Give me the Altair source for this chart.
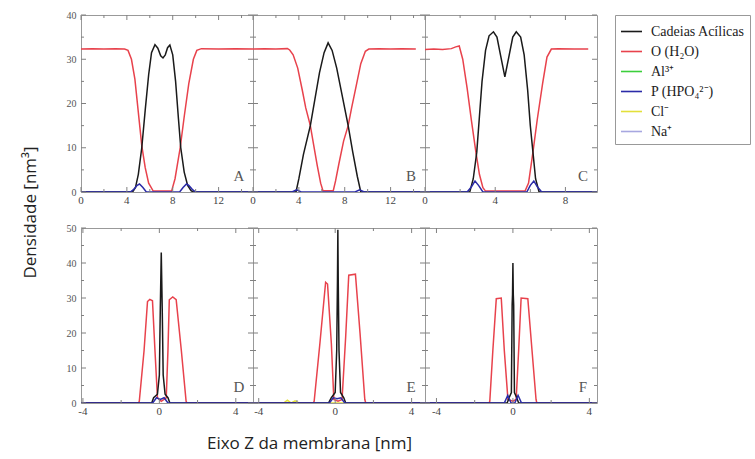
import altair as alt
import pandas as pd

SPECIES = ["Cadeias Acílicas", "O (H₂O)", "Al³⁺", "P (HPO₄²⁻)", "Cl⁻", "Na⁺"]
COLORS = ["#1a1a1a", "#e8424c", "#3ccf3c", "#2b2ba8", "#e3e03a", "#a7a7e0"]

# ---------------- Panel A ----------------
A_Z_O = [0, 1, 2, 3, 3.8, 4.1, 4.4, 4.7, 5.0, 5.3, 5.6, 5.9, 6.3, 7.9, 8.2, 8.65, 9.0, 9.4, 9.8, 10.1, 10.5, 12, 13.5, 15]
A_O = [32.3, 32.4, 32.3, 32.4, 32.3, 32.0, 30.0, 25.5, 18.0, 10.5, 5.5, 2.0, 0.2, 0.2, 3.0, 10.0, 17.0, 24.5, 30.0, 32.0, 32.4, 32.3, 32.4, 32.3]
A_Z_CH = [0, 4.5, 4.75, 5.0, 5.3, 5.6, 5.9, 6.15, 6.45, 6.7, 6.95, 7.15, 7.35, 7.55, 7.75, 8.0, 8.25, 8.5, 8.7, 9.0, 9.3, 9.6, 9.8, 15]
A_CH = [0, 0, 1.0, 4.0, 10.0, 18.5, 26.5, 31.5, 33.3, 32.5, 30.8, 30.3, 31.0, 32.6, 33.2, 31.0, 25.0, 16.5, 10.0, 4.5, 1.5, 0.3, 0, 0]
A_Z_P = [0, 4.3, 4.6, 4.9, 5.1, 5.4, 5.7, 8.6, 8.9, 9.2, 9.4, 9.7, 10.0, 15]
A_P = [0, 0, 0.6, 1.5, 1.8, 1.0, 0, 0, 1.0, 1.8, 1.5, 0.6, 0, 0]

# ---------------- Panel B ----------------
B_Z_O = [0, 1, 2, 3.0, 3.2, 3.5, 3.9, 4.3, 4.6, 5.0, 5.3, 5.6, 5.9, 6.1, 7.0, 7.2, 7.5, 7.9, 8.3, 8.6, 9.0, 9.4, 9.8, 10.1, 11, 12, 13, 14.2]
B_O = [32.3, 32.4, 32.3, 32.4, 32.1, 31.0, 28.0, 23.0, 19.0, 15.0, 10.5, 6.0, 2.0, 0.3, 0.3, 2.5, 6.5, 11.5, 15.0, 19.0, 24.0, 29.0, 31.8, 32.3, 32.4, 32.3, 32.4, 32.3]
B_Z_CH = [0, 3.75, 4.0, 4.4, 5.0, 5.4, 5.8, 6.2, 6.55, 6.9, 7.3, 7.8, 8.3, 8.7, 9.1, 9.4, 15]
B_CH = [0, 0, 3.0, 8.5, 15.0, 21.0, 27.0, 31.5, 33.7, 32.0, 28.0, 21.5, 15.0, 9.0, 3.5, 0, 0]
B_Z_P = [0, 3.4, 3.8, 4.2, 8.9, 9.3, 9.7, 15]
B_P = [0, 0, 0.5, 0, 0, 0.5, 0, 0]

# ---------------- Panel C ----------------
C_Z_O = [0, 0.5, 1.0, 1.5, 1.75, 1.95, 2.15, 2.4, 2.65, 2.9, 3.1, 3.3, 3.45, 5.7, 5.9, 6.15, 6.4, 6.7, 6.95, 7.2, 7.6, 8.5, 9.3]
C_O = [32.2, 32.3, 32.2, 32.4, 32.8, 33.0, 30.0, 23.5, 16.0, 9.0, 4.0, 1.0, 0.2, 0.2, 2.0, 9.0, 16.5, 24.5, 30.5, 32.3, 32.4, 32.3, 32.3]
C_Z_CH = [0, 2.55, 2.75, 2.95, 3.1, 3.25, 3.45, 3.65, 3.9, 4.1, 4.3, 4.55, 4.8, 5.0, 5.2, 5.45, 5.65, 5.85, 6.0, 6.15, 6.3, 6.5, 9.8]
C_CH = [0, 0, 3.0, 9.0, 17.0, 25.0, 32.0, 35.3, 36.2, 35.0, 31.0, 26.0, 31.0, 35.0, 36.2, 35.0, 31.0, 23.0, 15.0, 9.0, 3.0, 0, 0]
C_Z_P = [0, 2.4, 2.65, 2.85, 3.05, 3.3, 5.8, 6.0, 6.2, 6.4, 6.65, 9.8]
C_P = [0, 0, 1.2, 2.5, 1.5, 0, 0, 1.5, 2.5, 1.2, 0, 0]

# ---------------- Panel D ----------------
D_Z_O = [-4.1, -1.1, -1.05, -0.8, -0.62, -0.5, -0.36, -0.23, -0.1, 0.1, 0.36, 0.45, 0.52, 0.7, 0.88, 1.15, 1.4, 1.45, 4.9]
D_O = [0, 0, 0.5, 15, 29, 29.6, 29.2, 15, 1.5, 0.5, 1.5, 15, 29.5, 30.3, 29.5, 15, 0.5, 0, 0]
D_Z_CH = [-4.1, -0.4, -0.3, -0.1, 0.0, 0.05, 0.1, 0.15, 0.2, 0.3, 0.45, 0.55, 4.9]
D_CH = [0, 0, 1.5, 2.5, 8, 27, 43, 27, 8, 2.5, 1.5, 0, 0]
D_Z_P = [-4.1, -0.35, -0.15, 0.05, 0.25, 0.45, 4.9]
D_P = [0, 0, 1.5, 1.0, 1.5, 0, 0]

# ---------------- Panel E ----------------
E_Z_O = [-4.3, -1.15, -1.1, -0.8, -0.5, -0.4, -0.2, -0.07, 0.15, 0.36, 0.55, 0.71, 1.06, 1.3, 1.55, 1.6, 4.7]
E_O = [0, 0, 0.5, 17, 34.5, 34, 17, 1, 0.5, 1, 19, 36.5, 36.8, 20, 1, 0, 0]
E_Z_CH = [-4.3, -0.35, -0.2, 0.0, 0.08, 0.12, 0.14, 0.16, 0.2, 0.28, 0.45, 0.55, 4.7]
E_CH = [0, 0, 1.5, 3, 15, 35, 49.5, 35, 15, 3, 1.5, 0, 0]
E_Z_P = [-4.3, -0.3, -0.1, 0.1, 0.3, 0.5, 4.7]
E_P = [0, 0, 1.5, 1.2, 1.5, 0, 0]
E_Z_CL = [-4.3, -2.7, -2.5, -2.3, -2.1, -1.9, 4.7]
E_CL = [0, 0, 0.8, 0, 0.6, 0, 0]

# ---------------- Panel F ----------------
F_Z_O = [-4.6, -1.25, -1.21, -1.05, -0.87, -0.61, -0.45, -0.26, 0.0, 0.17, 0.3, 0.43, 0.78, 1.0, 1.21, 1.25, 4.4]
F_O = [0, 0, 0.5, 15, 29.8, 30, 15, 1, 0.5, 1, 15, 30, 29.8, 15, 1, 0, 0]
F_Z_CH = [-4.6, -0.3, -0.2, -0.08, -0.04, -0.02, 0.0, 0.02, 0.04, 0.08, 0.2, 0.3, 4.4]
F_CH = [0, 0, 1.5, 3, 28, 31, 40, 31, 28, 3, 1.5, 0, 0]
F_Z_P = [-4.6, -0.45, -0.27, -0.1, 0.1, 0.27, 0.45, 4.4]
F_P = [0, 0, 2.2, 0, 0, 2.2, 0, 0]

# tick values
TOP_XMAJ_AB = [0, 4, 8, 12]
TOP_XMIN_AB = [2, 6, 10, 14]
TOP_XMAJ_C = [0, 4, 8]
TOP_XMIN_C = [2, 6]
BOT_XMAJ = [-4, 0, 4]
BOT_XMIN = [-2, 2]
TOP_YMAJ = [0, 10, 20, 30, 40]
TOP_YMIN = [5, 15, 25, 35]
BOT_YMAJ = [0, 10, 20, 30, 40, 50]
BOT_YMIN = [5, 15, 25, 35, 45]

W = 172
H_TOP = 177
H_BOT = 175
TICK_COLOR = "#808080"
SERIF = "Liberation Serif"

LEGEND = alt.Legend(
    title=None, orient="none", legendX=534, legendY=0,
    symbolType="stroke", symbolSize=441, symbolStrokeWidth=1.6,
    labelFont=SERIF, labelFontSize=14, labelColor="#222", labelOffset=8,
    rowPadding=1, padding=5, strokeColor="#999", fillColor="white",
    labelLimit=200,
)


def make_df(parts):
    frames = []
    for name, z, d in parts:
        frames.append(pd.DataFrame({"z": z, "d": d, "s": name}))
    return pd.concat(frames, ignore_index=True)


def panel(parts, xdom, ydom, xmaj, xmin, ymaj, ymin, H, letter, show_y,
          ytitle=None, xtitle=None):
    xs = alt.Scale(domain=xdom, nice=False, zero=False)
    ys = alt.Scale(domain=ydom, nice=False, zero=False)
    if xtitle:
        xaxis = alt.Axis(labels=False, ticks=False, domain=False, grid=False,
                         title=xtitle, titleFont="Open Sans", titleFontSize=17,
                         titleFontWeight="normal", titleColor="#222",
                         titleX=56, titleY=40, titleAlign="center",
                         titleBaseline="middle")
    else:
        xaxis = None
    if show_y:
        yaxis_kw = dict(values=ymaj, ticks=False, domain=False, grid=False,
                        labelFont=SERIF, labelFontSize=10, labelColor="#555",
                        labelPadding=5, labelFlush=False, labelOverlap=False,
                        labelBound=False, title=None)
        if ytitle:
            yaxis_kw.update(title=ytitle, titleFont="Open Sans", titleFontSize=17,
                            titleFontWeight="normal", titleColor="#222",
                            titleX=-51, titleY=197, titleAngle=270,
                            titleAlign="center", titleBaseline="middle")
        yaxis = alt.Axis(**yaxis_kw)
    else:
        yaxis = None

    df = make_df(parts)
    lines = alt.Chart(df).mark_line(strokeWidth=1.5, clip=True).encode(
        x=alt.X("z:Q", scale=xs, axis=xaxis),
        y=alt.Y("d:Q", scale=ys, axis=yaxis),
        color=alt.Color("s:N", scale=alt.Scale(domain=SPECIES, range=COLORS),
                        legend=LEGEND),
    )

    layers = [lines]
    for vals, ln in ((xmaj, 5), (xmin, 3)):
        tdf = pd.DataFrame({"v": vals})
        base = alt.Chart(tdf).mark_rule(color=TICK_COLOR, strokeWidth=1)
        xv = alt.X("v:Q", scale=xs, axis=xaxis)
        layers.append(base.encode(x=xv, y=alt.value(H), y2=alt.value(H - ln)))
        layers.append(base.encode(x=xv, y=alt.value(0), y2=alt.value(ln)))
    for vals, ln in ((ymaj, 5), (ymin, 3)):
        tdf = pd.DataFrame({"v": vals})
        base = alt.Chart(tdf).mark_rule(color=TICK_COLOR, strokeWidth=1)
        yv = alt.Y("v:Q", scale=ys, axis=yaxis)
        layers.append(base.encode(y=yv, x=alt.value(0), x2=alt.value(ln)))
        layers.append(base.encode(y=yv, x=alt.value(W), x2=alt.value(W - ln)))

    # x tick labels (placed through the x scale)
    xl_df = pd.DataFrame({"pos": [float(v) for v in xmaj],
                          "lbl": [str(v) for v in xmaj]})
    xl = alt.Chart(xl_df).mark_text(
        font=SERIF, fontSize=11, color="#444", align="center", baseline="middle"
    ).encode(x=alt.X("pos:Q", scale=xs, axis=xaxis), y=alt.value(H + 9),
             text=alt.Text("lbl:N"))
    layers.append(xl)

    lab = alt.Chart(pd.DataFrame({"t": [letter]})).mark_text(
        font=SERIF, fontSize=15, color="#555", align="center", baseline="middle"
    ).encode(text="t:N", x=alt.value(W - 14), y=alt.value(H - 16))
    layers.append(lab)

    return alt.layer(*layers).properties(width=W, height=H)


pA = panel([("O (H₂O)", A_Z_O, A_O), ("Cadeias Acílicas", A_Z_CH, A_CH),
            ("P (HPO₄²⁻)", A_Z_P, A_P)],
           [0, 15], [0, 40], TOP_XMAJ_AB, TOP_XMIN_AB, TOP_YMAJ, TOP_YMIN,
           H_TOP, "A", True, ytitle="Densidade [nm³]")
pB = panel([("O (H₂O)", B_Z_O, B_O), ("Cadeias Acílicas", B_Z_CH, B_CH),
            ("P (HPO₄²⁻)", B_Z_P, B_P)],
           [0, 15], [0, 40], TOP_XMAJ_AB, TOP_XMIN_AB, TOP_YMAJ, TOP_YMIN,
           H_TOP, "B", False)
pC = panel([("O (H₂O)", C_Z_O, C_O), ("Cadeias Acílicas", C_Z_CH, C_CH),
            ("P (HPO₄²⁻)", C_Z_P, C_P)],
           [0, 9.8], [0, 40], TOP_XMAJ_C, TOP_XMIN_C, TOP_YMAJ, TOP_YMIN,
           H_TOP, "C", False)
pD = panel([("O (H₂O)", D_Z_O, D_O), ("Cadeias Acílicas", D_Z_CH, D_CH),
            ("P (HPO₄²⁻)", D_Z_P, D_P)],
           [-4.1, 4.9], [0, 50], BOT_XMAJ, BOT_XMIN, BOT_YMAJ, BOT_YMIN,
           H_BOT, "D", True)
pE = panel([("Cl⁻", E_Z_CL, E_CL), ("O (H₂O)", E_Z_O, E_O),
            ("Cadeias Acílicas", E_Z_CH, E_CH), ("P (HPO₄²⁻)", E_Z_P, E_P)],
           [-4.3, 4.7], [0, 50], BOT_XMAJ, BOT_XMIN, BOT_YMAJ, BOT_YMIN,
           H_BOT, "E", False, xtitle="Eixo Z da membrana [nm]")
pF = panel([("O (H₂O)", F_Z_O, F_O), ("Cadeias Acílicas", F_Z_CH, F_CH),
            ("P (HPO₄²⁻)", F_Z_P, F_P)],
           [-4.6, 4.4], [0, 50], BOT_XMAJ, BOT_XMIN, BOT_YMAJ, BOT_YMIN,
           H_BOT, "F", False)

chart = alt.concat(
    pA, pB, pC, pD, pE, pF, columns=3,
    spacing={"row": 36, "column": 0}, bounds="flush",
).properties(
    padding={"left": 20, "top": 9, "right": 0, "bottom": 0},
    background="white",
).configure_view(stroke="#999", strokeWidth=1)

chart.save("out.html", embed_options={"renderer": "svg", "actions": False})
